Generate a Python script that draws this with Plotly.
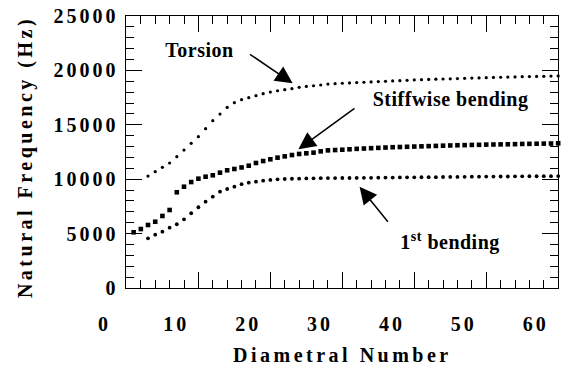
import plotly.graph_objects as go

# ---- data ----
torsion_n = list(range(3, 62))
torsion_hz = [10290, 10690, 11090, 11490, 12070, 12680, 13300, 13910, 14640, 15380,
              15990, 16600, 17030, 17310, 17490, 17680, 17860, 18010, 18130, 18230,
              18320, 18440, 18530, 18590, 18660, 18740, 18780, 18820, 18850, 18880,
              18910, 18940, 18970, 19000, 19030, 19060, 19090, 19120, 19150, 19170,
              19190, 19210, 19230, 19250, 19270, 19290, 19310, 19330, 19350, 19370,
              19390, 19400, 19420, 19430, 19450, 19460, 19480, 19490, 19500]

stiff_n = list(range(1, 62))
stiff_hz = [5120, 5420, 5790, 6090, 6620, 7170, 8800, 9310, 9740, 10050,
            10230, 10360, 10600, 10820, 10940, 11080, 11240, 11490, 11670, 11830,
            11980, 12100, 12220, 12320, 12380, 12440, 12560, 12650, 12680, 12710,
            12750, 12790, 12820, 12850, 12880, 12910, 12940, 12960, 12980, 13000,
            13020, 13040, 13060, 13080, 13100, 13120, 13130, 13150, 13160, 13180,
            13190, 13200, 13210, 13220, 13240, 13250, 13260, 13270, 13280, 13300,
            13320]

bend_n = list(range(3, 62))
bend_hz = [4570, 4900, 5180, 5540, 5860, 6310, 6870, 7420, 7930, 8390,
           8850, 9100, 9310, 9540, 9680, 9770, 9860, 9930, 9990, 10020,
           10040, 10050, 10070, 10080, 10090, 10100, 10100, 10110, 10110, 10120,
           10130, 10130, 10140, 10150, 10150, 10160, 10170, 10170, 10180, 10190,
           10190, 10200, 10210, 10210, 10220, 10230, 10230, 10240, 10240, 10250,
           10250, 10260, 10260, 10270, 10270, 10280, 10280, 10290, 10290]

x_tick_vals = [0, 10, 20, 30, 40, 50, 60]
y_tick_vals = [0, 5000, 10000, 15000, 20000, 25000]

FONT = "Liberation Serif, Times New Roman, serif"
W, H = 579, 369
ML, MR, MT, MB = 100, 2, 16, 81
PW, PH = W - ML - MR, H - MT - MB


def px_x(p):
    return (p - ML) / PW


def px_y(q):
    return (H - MB - q) / PH


fig = go.Figure()
fig.add_trace(go.Scatter(x=torsion_n, y=torsion_hz, mode="markers", name="Torsion",
                         marker=dict(symbol="circle", size=3.2, color="black"),
                         cliponaxis=False, showlegend=False))
fig.add_trace(go.Scatter(x=stiff_n, y=stiff_hz, mode="markers", name="Stiffwise bending",
                         marker=dict(symbol="square", size=4.6, color="black"),
                         cliponaxis=False, showlegend=False))
fig.add_trace(go.Scatter(x=bend_n, y=bend_hz, mode="markers", name="1st bending",
                         marker=dict(symbol="circle", size=3.8, color="black"),
                         cliponaxis=False, showlegend=False))
# carrier for the (offset) tick-label axis
fig.add_trace(go.Scatter(x=[x_tick_vals[0], x_tick_vals[-1]], y=[None, None], xaxis="x2",
                         yaxis="y", mode="markers", showlegend=False, hoverinfo="skip"))

tickfont = dict(family=FONT, size=20, color="black", weight="bold")

fig.update_layout(
    width=W, height=H, autosize=False,
    margin=dict(l=ML, r=MR, t=MT, b=MB, pad=0),
    paper_bgcolor="white", plot_bgcolor="rgba(0,0,0,0)",
    showlegend=False,
    xaxis=dict(domain=[px_x(127), px_x(568)], range=[0, 60], showgrid=False, zeroline=False,
               showline=True, linecolor="black", linewidth=1, mirror="ticks",
               ticks="inside", ticklen=16, tickwidth=1, tickcolor="black",
               tickmode="array", tickvals=x_tick_vals, showticklabels=False,
               minor=dict(dtick=2, ticks="inside", ticklen=8, tickwidth=1, tickcolor="black")),
    xaxis2=dict(domain=[px_x(104.5), px_x(545)], range=[0, 60], anchor="y",
                showgrid=False, zeroline=False, showline=False, ticks="",
                tickmode="array", tickvals=x_tick_vals, ticktext=[str(v) for v in x_tick_vals],
                tickfont=tickfont, ticklabelstandoff=22),
    yaxis=dict(range=[0, 25000], showgrid=False, zeroline=False, anchor="x",
               showline=True, linecolor="black", linewidth=1, mirror="ticks",
               ticks="inside", ticklen=16, tickwidth=1, tickcolor="black",
               tickmode="array", tickvals=y_tick_vals, ticktext=[str(v) for v in y_tick_vals],
               tickfont=tickfont, ticklabelstandoff=3,
               minor=dict(dtick=1000, ticks="inside", ticklen=8, tickwidth=1, tickcolor="black")),
)

titlefont = dict(family=FONT, size=20, color="black", weight="bold")
annfont = dict(family=FONT, size=20, color="black", weight="bold")
arrow = dict(showarrow=True, arrowhead=2, arrowsize=2.3, arrowwidth=1.5, arrowcolor="black",
             standoff=0, text="", xref="x", yref="y", axref="x", ayref="y")

annotations = [
    dict(text="Diametral Number", xref="paper", yref="paper", x=px_x(348), y=px_y(355),
         showarrow=False, font=titlefont, xanchor="center", yanchor="middle"),
    dict(text="Natural Frequency (Hz)", xref="paper", yref="paper", x=px_x(24), y=px_y(157),
         showarrow=False, font=titlefont, textangle=-90, xanchor="center", yanchor="middle"),
    dict(text="Torsion", xref="x", yref="y", x=10.2, y=21875, showarrow=False, font=annfont),
    dict(text="Stiffwise bending", xref="x", yref="y", x=45.1, y=17280, showarrow=False, font=annfont),
    dict(text="1<sup>st</sup> bending", xref="x", yref="y", x=44.9, y=4230, showarrow=False, font=annfont),
    dict(x=23.1, y=18814, ax=16.97, ay=21570, **arrow),
    dict(x=23.9, y=12748, ax=31.9, ay=16610, **arrow),
    dict(x=32.4, y=9310, ax=36.5, ay=5950, **arrow),
]
fig.update_layout(annotations=annotations)

post = """
var gd = document.getElementById('{plot_id}');
function spacing(){
  gd.querySelectorAll('.xtick text, .x2tick text, .ytick text').forEach(function(t){ t.style.letterSpacing = '3px'; });
  [0, 1].forEach(function(i){
    var g = gd.querySelector('.annotation[data-index="' + i + '"] text');
    if (g) { g.style.letterSpacing = '3.5px'; }
  });
  [2, 3, 4].forEach(function(i){
    var g = gd.querySelector('.annotation[data-index="' + i + '"] text');
    if (g) { g.style.letterSpacing = '0.5px'; }
  });
}
spacing();
gd.on('plotly_afterplot', spacing);
"""

fig.write_html("out.html", post_script=post)
